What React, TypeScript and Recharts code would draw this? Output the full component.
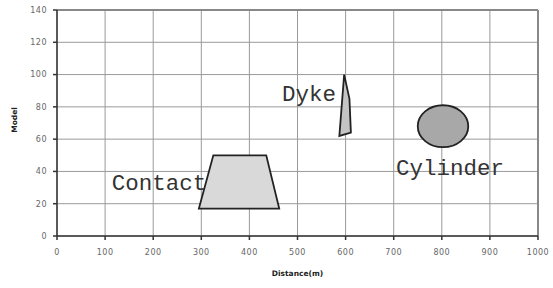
import React from 'react';
import { ScatterChart, Scatter, XAxis, YAxis, CartesianGrid, ReferenceLine } from 'recharts';

const xTicks = [0, 100, 200, 300, 400, 500, 600, 700, 800, 900, 1000];
const yTicks = [0, 20, 40, 60, 80, 100, 120, 140];

// outlines, in data units
const contact = [
  { x: 295, y: 17 },
  { x: 325, y: 50 },
  { x: 435, y: 50 },
  { x: 462, y: 17 },
];
const dyke = [
  { x: 597, y: 100 },
  { x: 608, y: 85 },
  { x: 611, y: 64 },
  { x: 587, y: 62 },
];
// cylinder: left, top, right, bottom extremes of the ellipse
const cylinder = [
  { x: 750, y: 68 },
  { x: 802, y: 81 },
  { x: 855, y: 68 },
  { x: 802, y: 55 },
];
const labels = [
  { x: 114, y: 28.5, name: 'Contact' },
  { x: 468, y: 83.5, name: 'Dyke' },
  { x: 705, y: 37.5, name: 'Cylinder' },
];

const tickFont = { fontSize: 8, fill: '#666', fontFamily: 'DejaVu Sans', letterSpacing: 0.5 };

const polygon = (fill: string) => (props: any) => {
  const pts = (props.points || []).map((p: any) => `${p.x},${p.y}`).join(' ');
  return <polygon points={pts} fill={fill} stroke="#222" strokeWidth={1.8} strokeLinejoin="miter" />;
};

const ellipse = (fill: string) => (props: any) => {
  const pts = props.points || [];
  if (!pts.length) return <g />;
  const xs = pts.map((p: any) => p.x);
  const ys = pts.map((p: any) => p.y);
  const x0 = Math.min(...xs);
  const x1 = Math.max(...xs);
  const y0 = Math.min(...ys);
  const y1 = Math.max(...ys);
  return (
    <ellipse
      cx={(x0 + x1) / 2}
      cy={(y0 + y1) / 2}
      rx={(x1 - x0) / 2}
      ry={(y1 - y0) / 2}
      fill={fill}
      stroke="#222"
      strokeWidth={1.8}
    />
  );
};

const noDot = () => <g />;

const labelShape = (props: any) => (
  <text
    x={props.cx}
    y={props.cy}
    fontFamily="Liberation Mono"
    fontSize={22.5}
    fill="#333"
  >
    {props.payload.name}
  </text>
);

export default function App() {
  return (
    <div style={{ position: 'absolute', left: 0, top: 0, width: 553, height: 288, background: '#fff' }}>
      <ScatterChart width={553} height={288} margin={{ top: 10, right: 15, left: 0, bottom: 0 }}>
        <CartesianGrid stroke="#9a9a9a" strokeWidth={1} />
        <XAxis
          type="number"
          dataKey="x"
          domain={[0, 1000]}
          ticks={xTicks}
          interval={0}
          height={52}
          tick={tickFont}
          tickSize={4}
          tickMargin={9}
          stroke="#333"
          strokeWidth={1.5}
          label={{
            content: ({ viewBox }: any) => (
              <text
                x={viewBox.x + viewBox.width / 2}
                y={276}
                textAnchor="middle"
                fontFamily="DejaVu Sans"
                fontWeight="bold"
                fontSize={7.5}
                fill="#222"
              >
                Distance(m)
              </text>
            ),
          }}
        />
        <YAxis
          type="number"
          dataKey="y"
          domain={[0, 140]}
          ticks={yTicks}
          interval={0}
          width={57}
          tick={tickFont}
          tickSize={4}
          tickMargin={6}
          stroke="#333"
          strokeWidth={1.5}
          label={{
            content: ({ viewBox }: any) => {
              const cy = viewBox.y + viewBox.height / 2 - 3;
              return (
                <text
                  x={14}
                  y={cy}
                  transform={`rotate(-90, 14, ${cy})`}
                  textAnchor="middle"
                  dominantBaseline="central"
                  fontFamily="DejaVu Sans"
                  fontWeight="bold"
                  fontSize={7.5}
                  fill="#222"
                >
                  Model
                </text>
              );
            },
          }}
        />
        <ReferenceLine y={140} stroke="#888" strokeWidth={2} />
        <ReferenceLine x={1000} stroke="#888" strokeWidth={2} />
        <Scatter data={contact} shape={noDot} line={polygon('#d9d9d9')} isAnimationActive={false} />
        <Scatter data={dyke} shape={noDot} line={polygon('#c4c4c4')} isAnimationActive={false} />
        <Scatter data={cylinder} shape={noDot} line={ellipse('#a8a8a8')} isAnimationActive={false} />
        <Scatter data={labels} shape={labelShape} isAnimationActive={false} />
      </ScatterChart>
    </div>
  );
}
